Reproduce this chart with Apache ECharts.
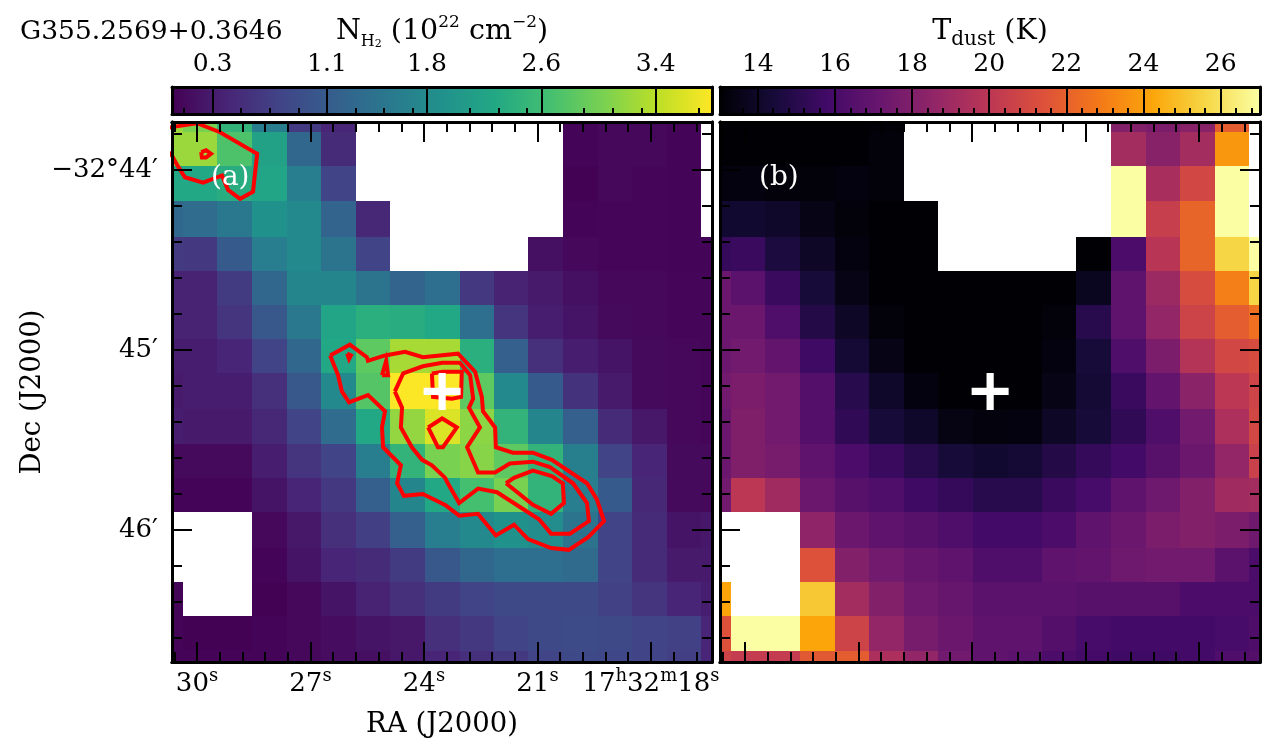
<!DOCTYPE html>
<html>
<head>
<meta charset="utf-8">
<script src="https://cdn.jsdelivr.net/npm/echarts@6/dist/echarts.min.js"></script>
<style>html,body{margin:0;padding:0;background:#fff}#c{width:1274px;height:753px}</style>
</head>
<body>
<div id="c"></div>
<script>
// Cell edges: right ascension (seconds past 17h32m) and declination (arcmin past -32 deg)
const raEdges = [31.28,30.37,29.46,28.54,27.63,26.72,25.80,24.89,23.98,23.06,22.15,21.24,20.32,19.41,18.50,17.58,16.67,15.76];
const decEdges = [-43.60,-43.79,-43.98,-44.17,-44.37,-44.56,-44.75,-44.94,-45.13,-45.33,-45.52,-45.71,-45.90,-46.10,-46.29,-46.48,-46.67,-46.86];

// N_H2 (10^22 cm^-2), one row per declination step
const _ = null;
const nH2Row0 = [3.22,3.03,2.47,1.61,.67,.41,_,_,_,_,_,_,.05,.09,.09,.05,_];
const nH2Row1 = [3.22,3.22,2.73,2.17,1.27,.48,_,_,_,_,_,_,.05,.09,.09,.05,_];
const nH2Row2 = [2.28,2.28,2.36,2.21,1.61,.78,_,_,_,_,_,_,.03,.09,.07,.05,_];
const nH2Row3 = [1.27,1.34,1.53,1.91,1.79,1.23,.44,_,_,_,_,_,.05,.07,.07,.05,_];
const nH2Row4 = [.67,.63,1.08,1.61,1.79,1.46,.78,_,_,_,_,.18,.09,.07,.07,.05,.05];
const nH2Row5 = [.37,.37,.67,1.27,1.72,1.72,1.46,1.23,1.38,.63,.37,.29,.18,.09,.09,.07,.07];
const nH2Row6 = [.37,.37,.59,1.04,1.53,2.21,2.39,2.36,2.28,1.38,.59,.33,.22,.11,.09,.07,.07];
const nH2Row7 = [.33,.33,.41,.78,1.27,2.28,2.84,3.29,3.29,2.39,1.16,.52,.33,.22,.11,.09,.07];
const nH2Row8 = [.29,.33,.33,.52,1.04,1.79,2.77,3.78,3.78,2.84,1.79,1.08,.56,.29,.11,.09,.07];
const nH2Row9 = [.33,.29,.29,.44,.78,1.34,2.28,3.18,3.59,3.14,2.47,1.72,1.16,.48,.26,.09,.07];
const nH2Row10 = [.11,.11,.11,.33,.59,.78,1.61,2.47,3.03,3.11,2.84,2.47,1.64,.78,.41,.11,.11];
const nH2Row11 = [.05,.05,.05,.22,.41,.63,1.16,1.72,2.28,2.66,3.03,2.47,1.61,1.08,.44,.11,.09];
const nH2Row12 = [_,_,_,.09,.26,.52,.71,1.16,1.61,1.79,1.91,1.83,1.46,.78,.48,.22,.26];
const nH2Row13 = [_,_,_,.05,.22,.41,.48,.67,1.04,1.27,1.38,1.38,1.31,.78,.48,.29,.29];
const nH2Row14 = [.05,_,_,.03,.09,.22,.37,.52,.67,.78,.86,.86,.86,.74,.59,.41,.33];
const nH2Row15 = [.05,.03,.03,.05,.09,.14,.22,.26,.52,.63,.78,.86,.89,.86,.78,.74,.41];
const nH2Row16 = [.05,.05,.05,.05,.09,.14,.18,.26,.41,.52,.63,.78,.86,.82,.78,.71,.41];
const nH2Rows = [nH2Row0,nH2Row1,nH2Row2,nH2Row3,nH2Row4,nH2Row5,nH2Row6,nH2Row7,nH2Row8,nH2Row9,nH2Row10,nH2Row11,nH2Row12,nH2Row13,nH2Row14,nH2Row15,nH2Row16];

// T_dust (K), one row per declination step
const tRow0 = [13.05,13.05,13.05,13.05,13.05,13.12,_,_,_,_,_,_,18.07,17.79,18.21,21.84,_];
const tRow1 = [13.05,13.05,13.05,13.05,13.05,13.19,_,_,_,_,_,_,19.19,18.21,19.19,23.79,_];
const tRow2 = [13.33,13.33,13.19,13.19,13.33,13.19,_,_,_,_,_,_,27,19.33,20.86,27,_];
const tRow3 = [14.17,14.17,14.03,13.47,13.19,13.05,13.05,_,_,_,_,_,27,20.44,22.12,27,_];
const tRow4 = [15.42,15.56,14.58,13.89,13.33,13.05,13.05,_,_,_,_,13.05,16.12,19.89,22.12,25.6,27];
const tRow5 = [17.24,16.68,15.56,14.45,13.47,13.05,13.05,13.05,13.05,13.05,13.05,13.75,16.82,18.91,21.14,23.0,25.6];
const tRow6 = [17.24,17.24,16.26,14.86,13.89,13.19,13.05,13.05,13.05,13.05,13.19,15.0,16.82,18.63,20.72,21.84,22.54];
const tRow7 = [17.24,17.51,16.96,15.7,14.31,13.47,13.05,13.05,13.05,13.05,13.33,14.45,16.26,17.79,19.75,20.86,21.14];
const tRow8 = [17.51,17.79,17.51,16.4,15.0,14.03,13.33,13.05,13.05,13.05,13.47,14.31,15.56,16.96,18.35,20.03,20.72];
const tRow9 = [17.24,17.93,17.51,16.4,15.28,14.45,14.03,13.4,13.26,13.33,13.89,14.45,15.28,16.26,17.51,19.47,20.86];
const tRow10 = [17.24,17.93,17.65,16.82,16.12,15.56,15.0,14.45,14.17,14.31,14.86,15.42,15.84,16.54,17.24,18.63,20.58];
const tRow11 = [17.51,20.03,19.05,17.24,16.54,16.26,15.7,15.42,15.0,15.0,15.56,15.98,16.82,17.37,18.07,19.05,19.19];
const tRow12 = [_,_,_,18.49,17.24,16.82,16.54,16.26,15.84,15.84,16.12,16.82,17.24,17.79,18.07,17.79,17.37];
const tRow13 = [_,_,_,21.42,18.07,17.51,17.1,16.82,16.26,16.26,16.82,16.96,17.37,17.51,17.51,16.68,16.12];
const tRow14 = [24.21,_,_,25.19,19.19,18.07,17.37,17.1,16.68,16.68,16.68,16.54,16.54,16.54,16.12,16.12,16.12];
const tRow15 = [21.42,27,27,24.21,20.72,18.63,17.65,17.24,16.82,16.82,16.4,15.98,15.84,15.84,15.84,15.98,16.26];
const tRow16 = [20.72,20.3,20.3,21.7,21.84,19.47,18.63,17.51,16.82,16.68,16.12,15.84,15.7,15.7,15.84,16.26,16.4];
const tRows = [tRow0,tRow1,tRow2,tRow3,tRow4,tRow5,tRow6,tRow7,tRow8,tRow9,tRow10,tRow11,tRow12,tRow13,tRow14,tRow15,tRow16];

// N_H2 contours [RA s, Dec arcmin]
const contourCorner = [[30.85,-43.77],[30.63,-43.76],[30,-43.74],[29.39,-43.79],[28.41,-43.91],[28.52,-44.12],[28.86,-44.16],[29.18,-44.11],[29.34,-44.03],[29.84,-44.07],[30.32,-44.04],[30.53,-43.97],[30.66,-43.92],[30.85,-43.88]];
const contourCornerDot = [[29.89,-43.90],[29.76,-43.89],[29.63,-43.91],[29.76,-43.93],[29.87,-43.93],[29.89,-43.90]];
const contourOuter = [[26.48,-45.03],[25.96,-44.97],[25.51,-45.04],[25.48,-45.06],[25.03,-45.03],[24.50,-45.01],[24.03,-45.04],[23.10,-45.02],[22.65,-45.12],[22.47,-45.26],[22.44,-45.34],[22.12,-45.43],[22.10,-45.54],[21.65,-45.57],[21.12,-45.57],[20.62,-45.61],[19.69,-45.74],[19.43,-45.83],[19.24,-45.95],[19.66,-46.04],[20.17,-46.11],[20.64,-46.10],[21.25,-46.05],[21.62,-45.97],[22.10,-46.03],[22.57,-45.91],[23.07,-45.92],[23.44,-45.86],[24.03,-45.80],[24.53,-45.81],[24.71,-45.74],[24.61,-45.64],[25.08,-45.54],[25.11,-45.43],[25.03,-45.34],[25.48,-45.25],[25.98,-45.29],[26.17,-45.23],[26.27,-45.14],[26.48,-45.03]];
const contourMiddle = [[24.77,-45.23],[24.55,-45.13],[24.03,-45.09],[23.52,-45.07],[23.05,-45.07],[22.78,-45.14],[22.70,-45.27],[22.81,-45.32],[22.52,-45.43],[22.86,-45.54],[22.57,-45.68],[22.12,-45.68],[21.73,-45.63],[21.12,-45.62],[20.67,-45.65],[20.06,-45.74],[19.69,-45.85],[19.64,-45.95],[20.14,-46.02],[20.64,-46.02],[20.96,-45.94],[22.07,-45.79],[22.57,-45.77],[23.07,-45.85],[23.37,-45.74],[23.44,-45.71],[23.79,-45.64],[24.05,-45.61],[24.32,-45.54],[24.61,-45.43],[24.58,-45.32],[24.77,-45.23]];
const contourPeak = [[23.79,-45.13],[23.50,-45.12],[23.00,-45.12],[23.02,-45.26],[23.26,-45.27],[23.76,-45.26],[23.79,-45.13]];
const contourDiamond = [[23.89,-45.43],[23.52,-45.38],[23.13,-45.43],[23.50,-45.54],[23.63,-45.54],[23.89,-45.43]];
const contourTail = [[21.83,-45.74],[21.62,-45.71],[21.12,-45.67],[20.62,-45.70],[20.33,-45.74],[20.30,-45.85],[20.64,-45.91],[21.12,-45.86],[21.83,-45.74]];
const contourLobeDot = [[26.03,-45.02],[25.93,-45.03],[25.98,-45.05],[26.03,-45.02]];
const contourTear = [[25.11,-45.14],[25.00,-45.06],[24.95,-45.14],[25.11,-45.14]];
const contours = [contourCorner,contourCornerDot,contourOuter,contourMiddle,contourPeak,contourDiamond,contourTail,contourLobeDot,contourTear];
const sourcePosition = [23.52,-45.23];

// Ticks
const raMajor = [30,27,24,21,18];
const raMinor = [30.6,29.4,28.8,28.2,27.6,26.4,25.8,25.2,24.6,23.4,22.8,22.2,21.6,20.4,19.8,19.2,18.6,17.4,16.8];
const decMajor = [-44,-45,-46];
const decMinor = [-43.8,-44.2,-44.4,-44.6,-44.8,-45.2,-45.4,-45.6,-45.8,-46.2,-46.4,-46.6];
const nH2Major = [0.3,1.1,1.8,2.6,3.4];
const nH2Minor = [0.1,0.5,0.7,0.9,1.3,1.5,1.7,2.1,2.3,2.5,2.9,3.1,3.3,3.7];
const tMajor = [14,16,18,20,22,24,26];
const tMinor = [13.6,14.4,14.8,15.2,15.6,16.4,16.8,17.2,17.6,18.4,18.8,19.2,19.6,20.4,20.8,21.2,21.6,22.4,22.8,23.2,23.6,24.4,24.8,25.2,25.6,26.4,26.8];

// Colour maps
const viridis = ['#440154','#482475','#414487','#355f8d','#2a788e','#21918c','#22a884','#44bf70','#7ad151','#bddf26','#fde725'];
const inferno = ['#000004','#160b39','#420a68','#6a176e','#932667','#bc3754','#dd513a','#f37819','#fca50a','#f6d746','#fcffa4'];

const FONT = '"DejaVu Serif"';
const FS = 25;
const raRange = [16.386,30.661], decRange = [-46.733,-43.733];
const nRange = [0.016,3.794], tRange = [13.02,27.02];

const labelRich = {
  n:{fontFamily:FONT,fontSize:26,color:'#000',lineHeight:30,verticalAlign:'bottom'},
  u:{fontFamily:FONT,fontSize:18,color:'#000',lineHeight:18,verticalAlign:'top'}
};
const nameRich = {
  n:{fontFamily:FONT,fontSize:28.5,color:'#000',lineHeight:36,verticalAlign:'middle'},
  u:{fontFamily:FONT,fontSize:17,color:'#000',lineHeight:18,verticalAlign:'top'},
  s:{fontFamily:FONT,fontSize:16,color:'#000',lineHeight:18,verticalAlign:'bottom'},
  ss:{fontFamily:FONT,fontSize:11,color:'#000',lineHeight:11,verticalAlign:'bottom'},
  d:{fontFamily:FONT,fontSize:20,color:'#000',lineHeight:24,verticalAlign:'bottom'}
};

const xAxes = [], yAxes = [], grids = [], series = [], visualMaps = [];

function addAxis(list, o){
  const base = {type:'value',scale:true,z:5,splitLine:{show:false},animation:false,
    axisLine:{show:true,onZero:false,lineStyle:{color:'#000',width:3}},
    axisLabel:{show:false},axisTick:{show:false}};
  list.push(Object.assign(base,o));
  return list.length-1;
}
function ticks(values,length,width){
  return {show:true,inside:true,length:length,customValues:values,lineStyle:{color:'#000',width:width}};
}
const raFormat = v => v===18 ? '{n|17}{u|h}{n|32}{u|m}{n|18}{u|s}' : '{n|'+v+'}{u|s}';

function heatItem(params, api){
  const a = api.coord([api.value(0),api.value(2)]);
  const b = api.coord([api.value(1),api.value(3)]);
  const r = echarts.graphic.clipRectByRect({
    x:Math.round(Math.min(a[0],b[0])),y:Math.round(Math.min(a[1],b[1])),
    width:Math.round(Math.max(a[0],b[0]))-Math.round(Math.min(a[0],b[0])),
    height:Math.round(Math.max(a[1],b[1]))-Math.round(Math.min(a[1],b[1]))
  },params.coordSys);
  return r && {type:'rect',shape:r,style:{fill:api.visual('color')}};
}
function cells(rows){
  const out = [];
  rows.forEach((row,j)=>row.forEach((v,i)=>{
    if(v!==null) out.push([raEdges[i],raEdges[i+1],decEdges[j],decEdges[j+1],v]);
  }));
  return out;
}

function panel(left, rows, colors, range, withLabels){
  const g = grids.length;
  grids.push({left:left,top:122,width:540,height:540,containLabel:false});
  const common = {gridIndex:g,min:raRange[0],max:raRange[1],inverse:true};
  const xb = addAxis(xAxes,Object.assign({},common,{position:'bottom',axisTick:ticks(raMajor,20,2),
    axisLabel:withLabels?{show:true,customValues:raMajor,margin:5,formatter:raFormat,rich:labelRich}:{show:false},
    name:withLabels?'RA (J2000)':'',nameLocation:'middle',nameGap:49,nameTextStyle:{fontFamily:FONT,fontSize:27.5,color:'#000'}}));
  addAxis(xAxes,Object.assign({},common,{position:'bottom',axisTick:ticks(raMinor,10,2)}));
  addAxis(xAxes,Object.assign({},common,{position:'top',axisTick:ticks(raMajor,20,2)}));
  addAxis(xAxes,Object.assign({},common,{position:'top',axisTick:ticks(raMinor,10,2)}));
  const yc = {gridIndex:g,min:decRange[0],max:decRange[1]};
  const yl = addAxis(yAxes,Object.assign({},yc,{position:'left',axisTick:ticks(decMajor,20,2),
    axisLabel:withLabels?{show:true,customValues:decMajor,margin:14,fontFamily:FONT,fontSize:26,color:'#000',
      formatter:v=>v===-44?'\u221232\u00b044\u2032':(v===-45?'45\u2032':'46\u2032')}:{show:false},
    name:withLabels?'Dec (J2000)':'',nameLocation:'middle',nameGap:125,nameRotate:90,nameTextStyle:{fontFamily:FONT,fontSize:27.5,color:'#000'}}));
  addAxis(yAxes,Object.assign({},yc,{position:'left',axisTick:ticks(decMinor,10,2)}));
  addAxis(yAxes,Object.assign({},yc,{position:'right',axisTick:ticks(decMajor,20,2)}));
  addAxis(yAxes,Object.assign({},yc,{position:'right',axisTick:ticks(decMinor,10,2)}));
  visualMaps.push({type:'continuous',show:false,min:range[0],max:range[1],dimension:4,seriesIndex:series.length,inRange:{color:colors}});
  series.push({type:'custom',coordinateSystem:'cartesian2d',xAxisIndex:xb,yAxisIndex:yl,z:1,silent:true,
    renderItem:heatItem,encode:{x:[0,1],y:[2,3]},data:cells(rows),animation:false});
  return {x:xb,y:yl};
}

function colorbar(left, colors, range, major, minor, labels, name){
  const g = grids.length;
  grids.push({left:left,top:87,width:540,height:27});
  const c = {gridIndex:g,min:range[0],max:range[1]};
  const xt = addAxis(xAxes,Object.assign({},c,{position:'top',axisTick:ticks(major,27,2),
    axisLabel:{show:true,customValues:major,margin:10,formatter:labels,fontFamily:FONT,fontSize:FS,color:'#000'},
    name:name,nameLocation:'middle',nameGap:37,nameTextStyle:{rich:nameRich,fontFamily:FONT,fontSize:28.5,color:'#000'}}));
  addAxis(xAxes,Object.assign({},c,{position:'bottom',axisTick:ticks(minor,6,2)}));
  const yc = {gridIndex:g,min:0,max:1};
  const yl = addAxis(yAxes,Object.assign({},yc,{position:'left'}));
  addAxis(yAxes,Object.assign({},yc,{position:'right'}));
  series.push({type:'custom',coordinateSystem:'cartesian2d',xAxisIndex:xt,yAxisIndex:yl,z:1,silent:true,animation:false,
    data:[[range[0],range[1],0,1]],encode:{x:[0,1],y:[2,3]},
    renderItem(params,api){
      const a = api.coord([api.value(0),api.value(3)]);
      const b = api.coord([api.value(1),api.value(2)]);
      return {type:'rect',shape:{x:a[0],y:a[1],width:b[0]-a[0],height:b[1]-a[1]},
        style:{fill:new echarts.graphic.LinearGradient(0,0,1,0,colors.map((col,i)=>({offset:i/(colors.length-1),color:col})))}};
    }});
}

const leftAxes = panel(172,nH2Rows,viridis,nRange,true);
contours.forEach(pts=>series.push({type:'line',xAxisIndex:leftAxes.x,yAxisIndex:leftAxes.y,data:pts,
  showSymbol:false,symbol:'none',clip:true,z:2,silent:true,animation:false,
  lineStyle:{color:'#ff0000',width:4,join:'miter'}}));
const crossPath = 'path://M-3.5,-18H3.5V-3.5H18V3.5H3.5V18H-3.5V3.5H-18V-3.5H-3.5Z';
series.push({type:'scatter',xAxisIndex:leftAxes.x,yAxisIndex:leftAxes.y,data:[sourcePosition],symbol:crossPath,symbolSize:37,
  itemStyle:{color:'#fff',opacity:1},z:3,silent:true,animation:false});
const rightAxes = panel(720,tRows,inferno,tRange,false);
series.push({type:'scatter',xAxisIndex:rightAxes.x,yAxisIndex:rightAxes.y,data:[sourcePosition],symbol:crossPath,symbolSize:37,
  itemStyle:{color:'#fff',opacity:1},z:3,silent:true,animation:false});
colorbar(172,viridis,nRange,nH2Major,nH2Minor,v=>v.toFixed(1),
  '{n|N}{s|H}{ss|2}{n| (10}{u|22}{n| cm}{u|\u22122}{n|)}');
colorbar(720,inferno,tRange,tMajor,tMinor,v=>String(v),
  '{n|T}{d|dust}{n| (K)}');

const chart = echarts.init(document.getElementById('c'),null,{renderer:'canvas'});
chart.setOption({
  animation:false,backgroundColor:'#fff',
  title:[
    {text:'G355.2569+0.3646',left:20,top:19,padding:0,textStyle:{fontFamily:FONT,fontSize:26.5,fontWeight:'normal',color:'#000'}},
    {text:'(a)',left:211,top:164,padding:0,textStyle:{fontFamily:FONT,fontSize:28,fontWeight:'normal',color:'#fff'}},
    {text:'(b)',left:759,top:164,padding:0,textStyle:{fontFamily:FONT,fontSize:28,fontWeight:'normal',color:'#fff'}}
  ],
  grid:grids,xAxis:xAxes,yAxis:yAxes,visualMap:visualMaps,series:series
});
</script>
</body>
</html>
